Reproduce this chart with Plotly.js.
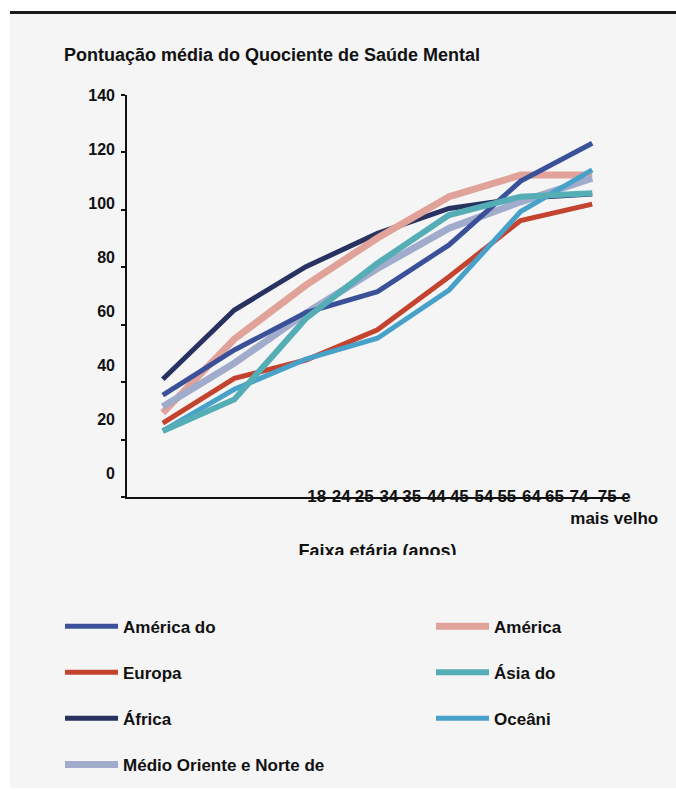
<!DOCTYPE html>
<html>
<head>
<meta charset="utf-8">
<script src="https://cdn.plot.ly/plotly-3.0.1.min.js"></script>
<style>
  html, body { margin: 0; padding: 0; background: #ffffff; }
  #wrap { position: relative; width: 676px; height: 790px; }
  #chart { width: 676px; height: 790px; }
  #clip { position: absolute; left: 270px; top: 555px; width: 210px; height: 16px; background: #f5f5f5; pointer-events: none; }
</style>
</head>
<body>
<div id="wrap">
  <div id="chart"></div>
  <div id="clip"></div>
</div>
<script>
// ---- data ----
const ageGroups = ['18-24', '25-34', '35-44', '45-54', '55-64', '65-74', '75 e mais velho'];
const ageTickText = ['18-24', '25-34', '35-44', '45-54', '55-64', '65-74', '75 e<br>mais velho'];
const yTickVals = [0, 20, 40, 60, 80, 100, 120, 140];
const yTickText = ['0', '20', '40', '60', '80', '100', '120', '140'];

const seriesNames = ['América do', 'América', 'Europa', 'Ásia do', 'África', 'Oceâni', 'Médio Oriente e Norte de'];
const americaDoNorte = [35.5, 51.2, 64.2, 71.5, 87.8, 110.0, 123.2];
const americaLatina = [29.3, 55.0, 73.8, 90.2, 104.6, 112.1, 112.1];
const europa = [25.7, 41.3, 47.7, 58.2, 76.7, 96.3, 102.0];
const asiaDoSul = [23.0, 34.0, 62.2, 81.4, 98.2, 104.6, 105.8];
const africa = [41.0, 65.1, 80.2, 91.8, 100.5, 104.0, 105.5];
const oceania = [23.0, 37.5, 48.0, 55.3, 72.1, 99.4, 113.9];
const medioOriente = [31.4, 46.6, 64.0, 79.6, 93.6, 102.8, 111.0];

// ---- styling ----
const FONT = 'Liberation Sans, Arial, sans-serif';
const colors = {
  americaDoNorte: '#3a5199', americaLatina: '#e0a299', europa: '#c4432f',
  asiaDoSul: '#55aeb5', africa: '#283261', oceania: '#47a1c9', medioOriente: '#a1abcc'
};

function line(name, y, color, width, legend, rank) {
  return {
    type: 'scatter', mode: 'lines', x: ageGroups, y: y, name: name,
    line: { color: color, width: width, shape: 'linear' },
    legend: legend, legendrank: rank, legendgroup: name,
    hoverinfo: 'x+y+name'
  };
}

// drawing order (bottom to top) follows the overlaps in the reference
const traces = [
  line(seriesNames[4], africa, colors.africa, 5, 'legend', 3),
  line(seriesNames[1], americaLatina, colors.americaLatina, 7, 'legend2', 1),
  line(seriesNames[6], medioOriente, colors.medioOriente, 7, 'legend', 4),
  line(seriesNames[0], americaDoNorte, colors.americaDoNorte, 5, 'legend', 1),
  line(seriesNames[2], europa, colors.europa, 5, 'legend', 2),
  line(seriesNames[5], oceania, colors.oceania, 5, 'legend2', 3),
  line(seriesNames[3], asiaDoSul, colors.asiaDoSul, 6, 'legend2', 2),
  { type: 'scatter', mode: 'lines', x: [], y: [], xaxis: 'x2', yaxis: 'y2', showlegend: false, hoverinfo: 'skip' }
];

const legendFont = { family: FONT, size: 17, weight: 'bold', color: '#111111' };
const legendBase = {
  orientation: 'v', traceorder: 'grouped', tracegroupgap: 21, itemwidth: 53,
  bgcolor: 'rgba(0,0,0,0)', borderwidth: 0, font: legendFont,
  xanchor: 'left', yanchor: 'top', yref: 'paper', xref: 'paper'
};

const layout = {
  width: 676, height: 790,
  margin: { l: 127, r: 48, t: 95, b: 293, autoexpand: false },
  paper_bgcolor: '#ffffff', plot_bgcolor: 'rgba(0,0,0,0)',
  font: { family: FONT, size: 16, weight: 'bold', color: '#111111' },
  title: {
    text: 'Pontuação média do Quociente de Saúde Mental',
    font: { family: FONT, size: 18, weight: 'bold', color: '#111111' },
    xref: 'container', x: 64 / 676, xanchor: 'left',
    yref: 'container', y: 1 - 55 / 790, yanchor: 'middle'
  },
  showlegend: true,
  legend: Object.assign({}, legendBase, { x: -0.1337, y: -0.2776 }),
  legend2: Object.assign({}, legendBase, { x: 0.6068, y: -0.2776 }),
  xaxis: {
    type: 'category', range: [-0.5, 6.5], showticklabels: false, ticks: '',
    showgrid: false, zeroline: false, showline: true, linecolor: '#111111', linewidth: 2,
    title: { text: 'Faixa etária (anos)', font: { family: FONT, size: 18, weight: 'bold', color: '#111111' }, standoff: 46 }
  },
  yaxis: {
    range: [0, 140], tickmode: 'array', tickvals: yTickVals, showticklabels: false,
    ticks: 'outside', ticklen: 4, tickwidth: 2, tickcolor: '#111111',
    showgrid: false, zeroline: false, showline: true, linecolor: '#111111', linewidth: 2
  },
  xaxis2: {
    overlaying: 'x', anchor: 'y', side: 'bottom', type: 'linear', range: [-4.25, 6.29],
    tickmode: 'array', tickvals: [0, 1, 2, 3, 4, 5, 6], ticktext: ageTickText, tickangle: 0,
    ticks: '', showgrid: false, zeroline: false, showline: false, ticklabelstandoff: -13,
    tickfont: { family: FONT, size: 17, weight: 'bold', color: '#111111' }
  },
  yaxis2: {
    overlaying: 'y', anchor: 'x', side: 'left', range: [-8.87, 140.05],
    tickmode: 'array', tickvals: yTickVals, ticktext: yTickText,
    ticks: '', showgrid: false, zeroline: false, showline: false, ticklabelstandoff: 11,
    tickfont: { family: FONT, size: 16, weight: 'bold', color: '#111111' }
  },
  shapes: [
    { type: 'rect', xref: 'paper', yref: 'paper', x0: -0.2335, x1: 1.0958, y0: -0.7239, y1: 1.2015,
      fillcolor: '#f5f5f5', line: { width: 0 }, layer: 'below' },
    { type: 'rect', xref: 'paper', yref: 'paper', x0: -0.2335, x1: 1.0958, y0: 1.2015, y1: 1.209,
      fillcolor: '#1a1a1a', line: { width: 0 }, layer: 'below' }
  ]
};

Plotly.newPlot('chart', traces, layout, { displayModeBar: false, staticPlot: false });
</script>
</body>
</html>
